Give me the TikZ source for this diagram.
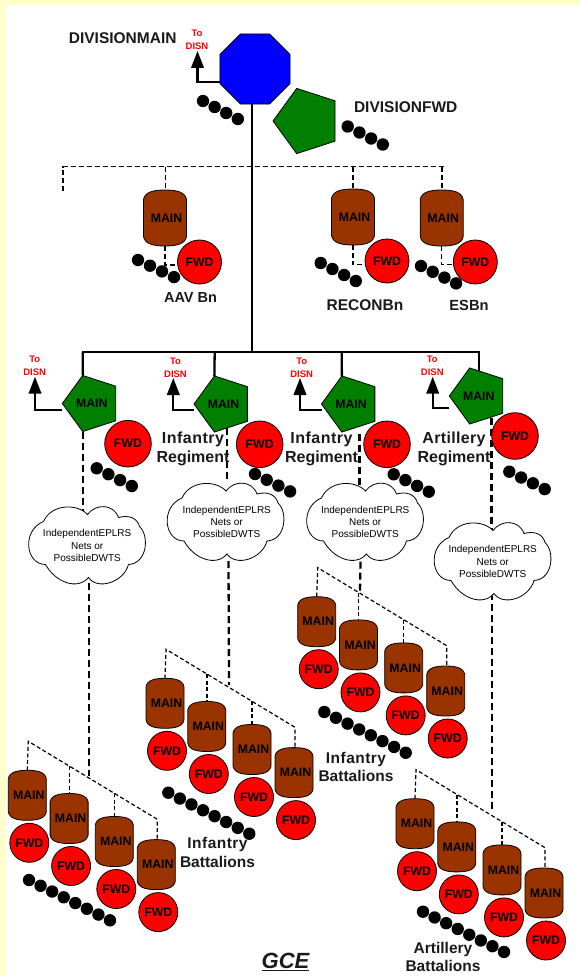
\documentclass[tikz,border=0pt]{standalone}
\usepackage{fontspec}
\setmainfont{Liberation Sans}
\usetikzlibrary{shapes.geometric,arrows.meta,calc}
\definecolor{bgyellow}{HTML}{FFFFCC}
\definecolor{cylbrown}{HTML}{993300}
\definecolor{pentgreen}{HTML}{007F00}
\definecolor{labelgray}{HTML}{1A1A1A}
\newcommand{\fsz}[2]{\fontsize{#1}{#2}\selectfont}
\newcommand{\lsp}[2]{{\addfontfeature{LetterSpace=#1}#2}}
\tikzset{
  outl/.style={draw=black,line width=0.8pt},
  fwdc/.style={circle,outl,fill=red,inner sep=0pt,outer sep=0pt,font=\bfseries\fsz{12.3}{14}},
  mainlab/.style={inner sep=0pt,outer sep=0pt,font=\bfseries\fsz{12.3}{14},text=black,execute at begin node={\hspace*{3pt}}},
  pentg/.style={regular polygon,regular polygon sides=5,regular polygon rotate=90,outl,fill=pentgreen,inner sep=0pt,outer sep=0pt,font=\bfseries\fsz{12.3}{14}},
  lab/.style={inner sep=0pt,align=center,text=labelgray,font=\bfseries\fsz{15.5}{18}},
  reglab/.style={inner sep=0pt,align=center,text=labelgray,font=\bfseries\fsz{16}{19.6}},
  batlab/.style={inner sep=0pt,align=center,text=labelgray,font=\bfseries\fsz{15.5}{18.5}},
  disnlab/.style={inner sep=0pt,align=center,text=red,font=\bfseries\fsz{9.5}{12.8}},
  cloudlab/.style={inner sep=0pt,align=center,text=black,minimum width=116pt,minimum height=78pt,font=\fsz{10}{12.4}},
  solidln/.style={line width=2.3pt,draw=black},
  disnarr/.style={line width=2.3pt,draw=black,-{Triangle[width=12.5pt,length=17pt]}},
  topdash/.style={line width=1.3pt,draw=black,dash pattern=on 5pt off 3pt},
  thindash/.style={line width=1.2pt,draw=black,dash pattern=on 4pt off 2.5pt},
  regdash/.style={line width=2.3pt,draw=black,dash pattern=on 7pt off 4pt},
}
% cylinder drawn from a unit outline, then a named label node of the same size
\newcommand{\cyl}[5]{%
  \begin{scope}[shift={(#2,#3)},xscale=#4,yscale=#5]
    \path[outl,fill=cylbrown] (-.5,-.33) .. controls (-.47,-.47) and (-.25,-.5) .. (0,-.5)
      .. controls (.25,-.5) and (.47,-.47) .. (.5,-.33) -- (.5,.33)
      .. controls (.47,.47) and (.25,.5) .. (0,.5)
      .. controls (-.25,.5) and (-.47,.47) .. (-.5,.33) -- cycle;
  \end{scope}
  \node[mainlab,minimum width=#4 pt,minimum height=#5 pt] (#1) at (#2,#3) {MAIN};}
\newcommand{\cloudat}[4]{%
  \begin{scope}[shift={(#2,#3)}]
    \path[outl,fill=white] (0,-31) .. controls (8,-42) and (26,-42) .. (31,-28)
      .. controls (42,-31) and (50,-27) .. (52,-19)
      .. controls (62,-10) and (60,18) .. (41,19)
      .. controls (36,37) and (10,45) .. (1,32)
      .. controls (-10,45) and (-32,37) .. (-42,19)
      .. controls (-62,19) and (-66,-15) .. (-44,-24)
      .. controls (-36,-42) and (-10,-42) .. (0,-31) -- cycle;
  \end{scope}
  \node[cloudlab] (#1) at (#4,#3) {IndependentEPLRS\\Nets or\\PossibleDWTS};}
\newcommand{\dotrow}[5]{%
  \foreach \i in {1,...,#1} {\fill[black] ({#2+(\i-1)*#4},{#3+(\i-1)*#5}) circle (6.2pt);}}
% group of four MAIN/FWD pairs with its sloped dashed feed
\newcommand{\batt}[3]{%
  \begin{scope}[shift={(#2,#3)}]
    \coordinate (#1pk) at (1,-54);
    \coordinate (#1en) at (130,24);
    \coordinate (#1tb) at ($(#1pk)!0.318!(#1en)$);
    \coordinate (#1tc) at ($(#1pk)!0.667!(#1en)$);
    \cyl{#1ma}{0}{0}{38}{50}
    \cyl{#1mb}{41.8}{23.2}{38}{50}
    \cyl{#1mc}{87}{46.2}{38}{50}
    \cyl{#1md}{129}{69.3}{38}{50}
    \node[fwdc,minimum size=39pt] (#1fa) at (2,47.5) {FWD};
    \node[fwdc,minimum size=39pt] (#1fb) at (43.8,70.7) {FWD};
    \node[fwdc,minimum size=39pt] (#1fc) at (89,93.7) {FWD};
    \node[fwdc,minimum size=39pt] (#1fd) at (131,116.8) {FWD};
    \draw[thindash] (#1ma.north) -- (#1pk) -- (#1en) -- (#1en |- #1md.north);
    \draw[thindash] (#1tb) -- (#1tb |- #1mb.north);
    \draw[thindash] (#1tc) -- (#1tc |- #1mc.north);
  \end{scope}}
\begin{document}
\begin{tikzpicture}[x=1pt,y=-1pt]
\useasboundingbox (0,0) rectangle (580,976);
\fill[white] (0,0) rectangle (580,976);
\fill[bgyellow] (0,0) rectangle (580,5);
\fill[bgyellow] (0,0) rectangle (6,976);

% coordinates for free ends
\coordinate (busT) at (252,352.3);
\coordinate (busL) at (82.7,352.3);
\coordinate (busB) at (214.7,352.3);
\coordinate (busC) at (341.7,352.3);
\coordinate (busR) at (479,352.3);
\coordinate (dL) at (63,166.7);
\coordinate (dLe) at (63,191);
\coordinate (dT) at (252,166.7);
\coordinate (dA) at (165.5,166.7);
\coordinate (dB) at (353,166.7);
\coordinate (dC) at (442,166.7);
\coordinate (dR) at (446.7,166.7);

% top dashed bus and solid trunk
\draw[topdash] (dLe) -- (dL) -- (dR);
\node[regular polygon,regular polygon sides=8,minimum size=75.8pt,inner sep=0pt,outer sep=0pt,outl,fill=blue] (oct) at (255,69) {};
\draw[solidln] (oct.south -| busT) -- (busT);
\draw[solidln,line cap=rect] (busL) -- (busR);

% division main arrow
\coordinate (oa) at (220,82);
\coordinate (ob) at (197.5,51);
\draw[disnarr] (oa) -| (ob);
\node[disnlab] (td0) at (197,40) {To\\DISN};
\node[lab] (ldm) at (122.7,38.3) {DIVISIONMAIN};
\dotrow{4}{203}{101}{11.6}{6}

\node[pentg,minimum size=68.6pt] (dfwd) at (307.3,121) {};
\node[lab] (ldf) at (405.7,106.7) {DIVISIONFWD};
\dotrow{4}{347.7}{126.5}{11.7}{6}

% top row units
\draw[topdash] (dA) -- (165.5,190);
\draw[topdash] (dB) -- (353,190);
\draw[topdash] (dC) -- (442,190);
\dotrow{4}{138}{260}{12}{5.7}
\dotrow{4}{320.7}{263}{11.7}{6}
\dotrow{4}{421}{266}{11.7}{5.8}
\cyl{ma}{165}{218}{43}{56}
\draw[topdash] (ma.south) |- (195,265);
\node[fwdc,minimum size=44pt] (fa) at (199.5,262) {FWD};
\node[lab,font=\bfseries\fsz{14.5}{18}] (laav) at (190.5,298) {AAV Bn};
\cyl{mr}{353}{217}{43}{56}
\draw[topdash] (mr.south) |- (380,264.7);
\node[fwdc,minimum size=44pt] (fr) at (387,261) {FWD};
\node[lab] (lrc) at (365,305) {RECONBn};
\cyl{me}{441.7}{218}{43}{56}
\draw[topdash] (me.south) |- (470,264.7);
\node[fwdc,minimum size=44pt] (fe) at (475.3,262) {FWD};
\node[lab,font=\bfseries\fsz{14.7}{18}] (les) at (469,305) {ESBn};

% battalion groups
\batt{g}{27.3}{795.3}
\batt{h}{165}{703.3}
\batt{k}{316.7}{621.7}
\batt{m}{415}{823.7}
\dotrow{8}{29}{880}{11.57}{5.76}
\dotrow{8}{168.3}{792.7}{11.57}{5.86}
\dotrow{8}{324.3}{712}{11.63}{5.82}
\dotrow{8}{423}{911.7}{11.57}{5.75}
\node[batlab] (l3) at (356,767) {\lsp{3}{Infantry}\\Battalions};
\node[batlab] (l2) at (217.5,852.5) {\lsp{3}{Infantry}\\Battalions};
\node[batlab] (l4) at (443,957) {Artillery\\Battalions};

% regiments
\node[pentg,minimum size=59pt] (p1) at (91.8,403.5) {MAIN};
\node[pentg,minimum size=59pt] (p2) at (223.5,404) {MAIN};
\node[pentg,minimum size=59pt] (p3) at (351,404) {MAIN};
\node[pentg,minimum size=59pt] (p4) at (478.8,396) {MAIN};
\draw[solidln] (busL) -- (p1.108);
\draw[solidln] (busB) -- (p2.108);
\draw[solidln] (busC) -- (p3.108);
\draw[solidln] (busR) -- (busR |- p4.north);

\coordinate (a1) at (35,376.7);
\coordinate (a2) at (173.3,378);
\coordinate (a3) at (300,378);
\coordinate (a4) at (432.7,376.7);
\draw[disnarr] (p1.west |- 60,409.7) -| (a1);
\draw[disnarr] (p2.west |- 60,409.7) -| (a2);
\draw[disnarr] (p3.west |- 60,409.7) -| (a3);
\draw[disnarr] (p4.west |- 60,408.3) -| (a4);
\node[disnlab] (td1) at (34.7,366) {To\\DISN};
\node[disnlab] (td2) at (175.5,368) {To\\DISN};
\node[disnlab] (td3) at (301.7,368) {To\\DISN};
\node[disnlab] (td4) at (432.3,366) {To\\DISN};

% dashed feeds, then clouds on top
\coordinate (j1) at (89,776);
\coordinate (j2) at (229,685);
\coordinate (j3) at (360,591.7);
\coordinate (j4) at (492,811);
\coordinate (s2) at (227.3,427.7);
\coordinate (s3) at (359.5,434);
\coordinate (s4) at (491.5,418);
\draw[regdash] (p1.-108) -- (p1.-108 |- 0,512);
\draw[regdash] (89,583) -- (j1);
\draw[regdash] (s2) -- (s2 |- 0,481);
\draw[regdash] (228.5,561) -- (j2);
\draw[regdash] (s3) -- (s3 |- 0,488);
\draw[regdash] (360.5,561.7) -- (j3);
\draw[regdash] (s4) -- (s4 |- 0,530);
\draw[regdash] (492,593) -- (j4);
\cloudat{c1}{87.5}{545.5}{87.2}
\cloudat{c2}{226}{522}{226.7}
\cloudat{c3}{365.5}{522}{365.2}
\cloudat{c4}{493}{561.5}{492.7}

\node[fwdc,minimum size=46.6pt] (f1) at (128,443.7) {FWD};
\node[fwdc,minimum size=46.6pt] (f2) at (259.7,444.3) {FWD};
\node[fwdc,minimum size=46.6pt] (f3) at (387,444.3) {FWD};
\node[fwdc,minimum size=46.6pt] (f4) at (515,436) {FWD};
\dotrow{4}{96.7}{468.3}{11.7}{5.9}
\dotrow{4}{255}{474}{11.7}{5.8}
\dotrow{4}{393.7}{474.3}{11.7}{5.8}
\dotrow{4}{509.3}{471.7}{11.8}{5.8}

\node[reglab] (r2) at (193,449) {\lsp{3}{Infantry}\\Regiment};
\node[reglab] (r3) at (321.5,449) {\lsp{3}{Infantry}\\Regiment};
\node[reglab] (r4) at (454,449) {\lsp{2}{Artillery}\\Regiment};

\node[inner sep=0pt,text=labelgray,font=\bfseries\itshape\fsz{22}{24}] (gce) at (285.5,962) {\underline{GCE}};
\end{tikzpicture}
\end{document}
